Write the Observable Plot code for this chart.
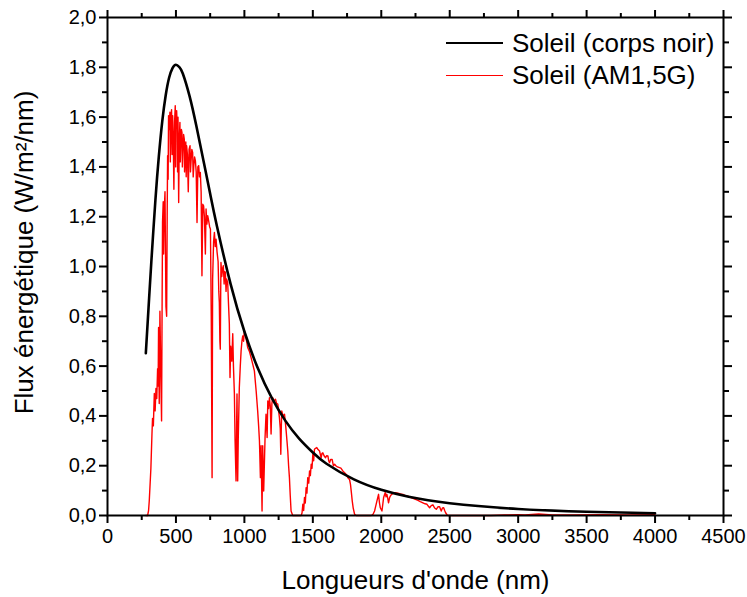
<!DOCTYPE html>
<html>
<head>
<meta charset="utf-8">
<script src="https://cdn.jsdelivr.net/npm/d3@7"></script>
<script src="https://cdn.jsdelivr.net/npm/@observablehq/plot@0.6"></script>
<style>
  html, body { margin: 0; padding: 0; background: #fff; }
  #wrap { position: relative; width: 747px; height: 597px; font-family: "Liberation Sans", Arial, sans-serif; }
  #legend { position: absolute; left: 446px; top: 27px; font-size: 26px; color: #000; line-height: 32px; }
  #legend .row { display: flex; align-items: center; white-space: nowrap; }
  #legend .sw { display: inline-block; width: 57px; margin-right: 9px; }
  g[aria-label="x-axis label"] text, g[aria-label="y-axis label"] text { font-size: 26px; }
</style>
</head>
<body>
<div id="wrap"><div id="legend"></div></div>
<script>
// ---- Data ----
const seriesNames = ["Soleil (corps noir)", "Soleil (AM1,5G)"];
const seriesColors = ["#000000", "#ff0000"];

// Black body
const bbWavelength = [280,300,320,350,375,400,425,450,475,500,525,550,600,650,700,750,800,900,1000,1100,1200,1300,1400,1500,1600,1800,2000,2200,2500,3000,3500,4000];
const bbFlux = [0.652,0.836,1.017,1.267,1.442,1.583,1.687,1.758,1.797,1.810,1.801,1.775,1.683,1.562,1.428,1.292,1.161,0.928,0.739,0.589,0.472,0.380,0.309,0.253,0.208,0.145,0.103,0.075,0.049,0.026,0.015,0.009];

// AM1.5G spectrum
const amWavelength = [280,293,300,305,317,325,329,335,342,348,354,360,366,370,373,378,383,388,395,399,402,407,410,414,420,427,432,436,439,443,446,451,456,459,463,468,472,476,480,485,490,495,498,500,505,510,512,515,520,524,529,532,535,540,544,547,550,556,561,563,566,572,575,578,584,590,596,603,606,610,616,622,626,630,636,642,648,654,660,666,672,678,684,690,696,702,708,715,720,726,732,740,746,752,758,764,768,775,781,787,793,800,808,813,817,821,824,827,829,835,840,846,852,856,861,866,870,878,884,890,895,900,908,915,920,927,932,939,943,946,951,955,963,970,976,982,988,994,1000,1010,1024,1036,1049,1060,1073,1086,1097,1104,1110,1117,1122,1129,1134,1141,1151,1158,1166,1171,1177,1183,1189,1195,1201,1207,1215,1227,1235,1244,1250,1256,1262,1266,1270,1273,1282,1293,1300,1305,1311,1317,1323,1329,1335,1341,1353,1415,1421,1427,1433,1439,1445,1451,1457,1463,1470,1476,1482,1488,1494,1500,1506,1512,1520,1529,1538,1549,1555,1561,1567,1573,1582,1593,1600,1610,1616,1622,1630,1641,1650,1659,1668,1680,1695,1705,1719,1732,1744,1756,1768,1775,1782,1788,1795,1805,1817,1927,1940,1951,1968,1980,1987,1993,2005,2017,2029,2035,2041,2047,2053,2060,2066,2075,2085,2100,2122,2140,2158,2175,2195,2213,2231,2250,2268,2285,2304,2320,2334,2343,2353,2365,2377,2390,2402,2414,2426,2438,2447,2456,2463,2470,2480,2487,2800,2900,3000,3050,3100,3150,3200,3250,3400,3600,3800,4000];
const amFlux = [0,0,0.02,0.058,0.19,0.33,0.39,0.36,0.49,0.42,0.51,0.47,0.59,0.52,0.755,0.45,0.82,0.62,0.38,0.86,1.18,1.26,1.05,1.22,1.30,0.84,0.80,1.2,1.445,1.35,1.606,1.55,1.62,1.42,1.59,1.63,1.45,1.606,1.52,1.31,1.58,1.646,1.40,1.60,1.626,1.55,1.38,1.60,1.257,1.50,1.579,1.42,1.48,1.55,1.539,1.40,1.45,1.53,1.512,1.38,1.44,1.50,1.36,1.485,1.45,1.30,1.47,1.485,1.38,1.42,1.47,1.458,1.36,1.40,1.44,1.425,1.38,1.177,1.40,1.405,1.36,1.378,1.30,0.963,1.25,1.244,1.20,1.05,1.231,1.17,1.204,1.18,1.16,1.15,0.80,0.152,0.95,1.10,1.137,1.08,1.11,1.06,1.02,0.90,0.855,0.70,0.668,0.90,1.016,0.96,0.99,1.003,0.93,0.98,0.976,0.90,0.95,0.936,0.85,0.77,0.554,0.68,0.62,0.73,0.60,0.488,0.30,0.139,0.35,0.488,0.139,0.30,0.514,0.60,0.661,0.70,0.721,0.70,0.742,0.72,0.675,0.66,0.634,0.61,0.581,0.50,0.42,0.36,0.30,0.152,0.28,0.018,0.28,0.098,0.313,0.407,0.313,0.46,0.43,0.473,0.44,0.327,0.45,0.473,0.46,0.467,0.45,0.447,0.42,0.393,0.35,0.246,0.36,0.42,0.40,0.407,0.37,0.34,0.30,0.259,0.20,0.152,0.08,0.018,0,0,0.01,0.045,0.02,0.072,0.05,0.112,0.09,0.152,0.13,0.179,0.16,0.206,0.19,0.246,0.22,0.266,0.27,0.273,0.265,0.259,0.245,0.232,0.25,0.252,0.24,0.232,0.24,0.239,0.22,0.212,0.225,0.225,0.20,0.206,0.20,0.195,0.192,0.19,0.179,0.172,0.165,0.152,0.145,0.125,0.09,0.058,0.03,0.005,0,0,0.005,0.018,0.058,0.085,0.05,0.031,0.018,0.072,0.092,0.075,0.085,0.07,0.051,0.07,0.078,0.085,0.088,0.092,0.09,0.087,0.085,0.08,0.078,0.073,0.069,0.065,0.061,0.056,0.051,0.047,0.045,0.038,0.031,0.04,0.043,0.03,0.025,0.035,0.035,0.018,0.03,0.031,0.02,0.011,0.003,0,0,0.002,0.003,0.002,0.004,0.006,0.004,0.002,0.002,0.003,0.002,0.003];

// Axis ticks
const xMajorTicks = [0,500,1000,1500,2000,2500,3000,3500,4000,4500];
const xMinorTicks = [250,750,1250,1750,2250,2750,3250,3750,4250];
const yMajorTicks = [0,0.2,0.4,0.6,0.8,1.0,1.2,1.4,1.6,1.8,2.0];
const yMinorTicks = [0.1,0.3,0.5,0.7,0.9,1.1,1.3,1.5,1.7,1.9];
const xTitle = "Longueurs d'onde (nm)";
const yTitle = "Flux énergétique (W/m²/nm)";

// ---- Build tables ----
const bb = bbWavelength.map((w, i) => ({w, f: bbFlux[i]}));
const am = amWavelength.map((w, i) => ({w, f: amFlux[i]}));
const fmtY = d => d3.format(".1f")(d).replace(".", ",");
const blank = () => "";

const chart = Plot.plot({
  width: 747,
  height: 597,
  marginLeft: 107,
  marginRight: 24,
  marginTop: 17,
  marginBottom: 82,
  style: {fontFamily: "'Liberation Sans', Arial, sans-serif", background: "#fff", color: "#000", overflow: "visible"},
  x: {domain: [0, 4500]},
  y: {domain: [0, 2]},
  marks: [
    Plot.line(am, {x: "w", y: "f", stroke: seriesColors[1], strokeWidth: 1.4, curve: "linear"}),
    Plot.line(bb, {x: "w", y: "f", stroke: seriesColors[0], strokeWidth: 2.6, curve: "natural"}),
    // bottom
    Plot.axisX({ticks: xMajorTicks, anchor: "bottom", tickSize: 8, tickPadding: 5, strokeWidth: 2, fontSize: 20, tickFormat: d => String(d), label: xTitle, labelAnchor: "center", labelOffset: 73, labelArrow: "none"}),
    Plot.axisX({ticks: xMinorTicks, anchor: "bottom", tickSize: 5, strokeWidth: 2, tickFormat: blank, label: null}),
    // top
    Plot.axisX({ticks: xMajorTicks, anchor: "top", tickSize: 8, strokeWidth: 2, tickFormat: blank, label: null}),
    Plot.axisX({ticks: xMinorTicks, anchor: "top", tickSize: 5, strokeWidth: 2, tickFormat: blank, label: null}),
    // left
    Plot.axisY({ticks: yMajorTicks, anchor: "left", tickSize: 8, tickPadding: 3, strokeWidth: 2, fontSize: 20, tickFormat: fmtY, label: yTitle, labelAnchor: "center", labelOffset: 93, labelArrow: "none"}),
    Plot.axisY({ticks: yMinorTicks, anchor: "left", tickSize: 5, strokeWidth: 2, tickFormat: blank, label: null}),
    // right
    Plot.axisY({ticks: yMajorTicks, anchor: "right", tickSize: 8, strokeWidth: 2, tickFormat: blank, label: null}),
    Plot.axisY({ticks: yMinorTicks, anchor: "right", tickSize: 5, strokeWidth: 2, tickFormat: blank, label: null}),
    Plot.frame({stroke: "#000", strokeWidth: 2})
  ]
});
document.getElementById("wrap").prepend(chart);

// shift the y-axis title slightly upward, as in the reference
const yLab = chart.querySelector('g[aria-label="y-axis label"]');
if (yLab) {
  const t = yLab.getAttribute("transform") || "";
  yLab.setAttribute("transform", (t + " translate(0,-14)").trim());
}

// Legend
const legend = d3.select("#legend");
seriesNames.forEach((name, i) => {
  const row = legend.append("div").attr("class", "row");
  row.append("span").attr("class", "sw")
    .style("border-top", `${i === 0 ? 2.6 : 1.4}px solid ${seriesColors[i]}`);
  row.append("span").text(name);
});
</script>
</body>
</html>
